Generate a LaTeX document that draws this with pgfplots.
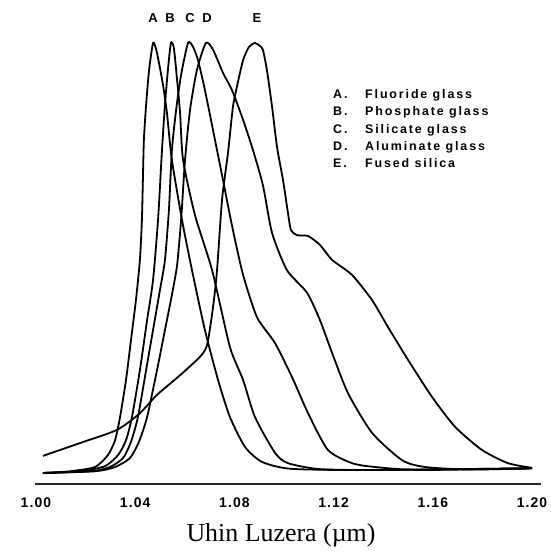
\documentclass[border=0pt]{standalone}
\usepackage{fontspec}
\setmainfont{Liberation Serif}
\newfontfamily\lsans[LetterSpace=8]{Liberation Sans}
\newfontfamily\lsanswide[LetterSpace=15]{Liberation Sans}
\usepackage{pgfplots}
\pgfplotsset{compat=1.18}
\begin{document}
\begin{tikzpicture}
\begin{axis}[
  x=2480bp, y=4.27bp,
  xmin=0.9996, xmax=1.2036, ymin=-3.28, ymax=110.07,
  at={(35bp,72bp)}, anchor=south west,
  axis x line*=bottom, axis y line=none,
  x axis line style={-, line width=1.4bp, black!85},
  xtick={1.00,1.04,1.08,1.12,1.16,1.20},
  ytick=\empty,
  major tick length=0pt,
  xticklabel style={font=\fontsize{14}{14}\lsans\bfseries, yshift=-10bp, /pgf/number format/.cd, fixed, fixed zerofill, precision=2, assume math mode=true},
  clip=false,
  cycle list={{black, mark=none}},
  every axis plot/.append style={line width=1.8bp, smooth, tension=0.4},
]
% A. Fluoride glass
\addplot coordinates {
(1.0028,-0.7) (1.0137,-0.3) (1.0238,0.7) (1.0290,3.5) (1.0319,7.0) (1.0339,12.4)
(1.0363,21.1) (1.0383,30.4) (1.0403,39.8) (1.0419,49.2) (1.0427,58.5) (1.0431,67.9)
(1.0435,77.3) (1.0444,85.5) (1.0456,93.7) (1.0472,100.0) (1.0484,98.6) (1.0496,95.3)
(1.0512,90.2) (1.0528,83.6) (1.0548,72.6) (1.0589,58.5) (1.0629,46.8) (1.0681,32.8)
(1.0734,21.1) (1.0782,12.4) (1.0843,5.4) (1.0911,1.9) (1.1024,0.3) (1.1300,0.0) (1.2000,0.4)
};
% B. Phosphate glass
\addplot coordinates {
(1.0028,-0.7) (1.0177,-0.3) (1.0278,0.9) (1.0331,3.5) (1.0363,7.0) (1.0387,12.4)
(1.0419,23.4) (1.0448,35.1) (1.0472,44.5) (1.0492,58.5) (1.0508,74.9) (1.0520,85.5)
(1.0532,93.7) (1.0544,100.0) (1.0556,98.8) (1.0569,91.3) (1.0581,83.6) (1.0593,72.6)
(1.0641,59.7) (1.0710,46.8) (1.0782,28.8) (1.0835,21.1) (1.0883,12.4) (1.0964,4.0)
(1.1016,1.6) (1.1145,0.2) (1.1400,0.0) (1.2000,0.4)
};
% C. Silicate glass
\addplot coordinates {
(1.0028,-0.7) (1.0218,-0.3) (1.0298,0.7) (1.0351,2.8) (1.0383,6.6) (1.0411,12.4)
(1.0444,23.4) (1.0472,32.8) (1.0500,42.2) (1.0520,49.2) (1.0536,60.9) (1.0548,74.9)
(1.0565,84.3) (1.0585,92.5) (1.0613,100.0) (1.0633,99.1) (1.0653,96.0) (1.0681,89.0)
(1.0730,74.9) (1.0754,67.9) (1.0794,56.2) (1.0835,45.7) (1.0891,35.8) (1.0964,29.7)
(1.1032,21.8) (1.1097,13.3) (1.1177,4.7) (1.1274,1.6) (1.1367,0.7) (1.1548,0.0) (1.2000,0.4)
};
% D. Aluminate glass
\addplot coordinates {
(1.0028,-0.7) (1.0238,-0.3) (1.0319,0.7) (1.0379,2.8) (1.0415,6.6) (1.0448,12.4)
(1.0488,23.4) (1.0520,32.8) (1.0548,41.0) (1.0569,48.0) (1.0585,58.5) (1.0601,72.6)
(1.0621,84.3) (1.0649,93.7) (1.0685,100.0) (1.0714,98.4) (1.0754,93.0) (1.0790,89.0)
(1.0835,82.0) (1.0875,74.9) (1.0915,66.7) (1.0952,55.5) (1.1012,46.8) (1.1093,41.5)
(1.1145,35.1) (1.1194,27.4) (1.1258,18.0) (1.1355,8.7) (1.1476,2.3) (1.1569,0.7)
(1.1750,0.1) (1.2000,0.4)
};
% E. Fused silica
\addplot coordinates {
(1.0028,3.3) (1.0177,6.3) (1.0327,9.4) (1.0419,13.3) (1.0488,17.6) (1.0581,22.2)
(1.0661,26.5) (1.0690,29.3) (1.0714,38.2) (1.0730,46.8) (1.0750,63.2) (1.0774,74.2)
(1.0794,85.0) (1.0810,89.7) (1.0835,96.0) (1.0859,99.1) (1.0883,100.0) (1.0903,99.3)
(1.0915,98.4) (1.0931,93.7) (1.0952,85.0) (1.0972,75.6) (1.0996,67.9) (1.1016,60.2)
(1.1028,56.2) (1.1052,55.0) (1.1097,54.8) (1.1145,52.7) (1.1194,49.2) (1.1274,45.7)
(1.1355,39.8) (1.1419,33.5) (1.1500,25.8) (1.1597,17.1) (1.1690,10.1) (1.1798,4.7)
(1.1903,1.6) (1.2000,0.5)
};
\end{axis}
\begin{scope}[x=1bp, y=-1bp, yshift=556bp]
\path (0,0) rectangle (549,556);
\begin{scope}[every node/.style={font=\fontsize{13}{13}\lsans\bfseries, inner sep=0pt}]
\node at (153,18) {A};
\node at (170,18) {B};
\node at (190,18) {C};
\node at (207,18) {D};
\node at (257,18) {E};
\end{scope}
\begin{scope}[every node/.style={font=\fontsize{12.5}{12.5}\lsanswide\bfseries, inner sep=0pt, anchor=base west}]
\node at (333,99) {A.};  \node at (365,99) {Fluoride glass};
\node at (333,116) {B.}; \node at (365,116) {Phosphate glass};
\node at (333,134) {C.}; \node at (365,134) {Silicate glass};
\node at (333,151) {D.}; \node at (365,151) {Aluminate glass};
\node at (333,168) {E.}; \node at (365,168) {Fused silica};
\end{scope}
\node[font=\fontsize{26}{26}\selectfont, inner sep=0pt] at (281,535) {Uhin Luzera (µm)};
\end{scope}
\end{tikzpicture}
\end{document}
